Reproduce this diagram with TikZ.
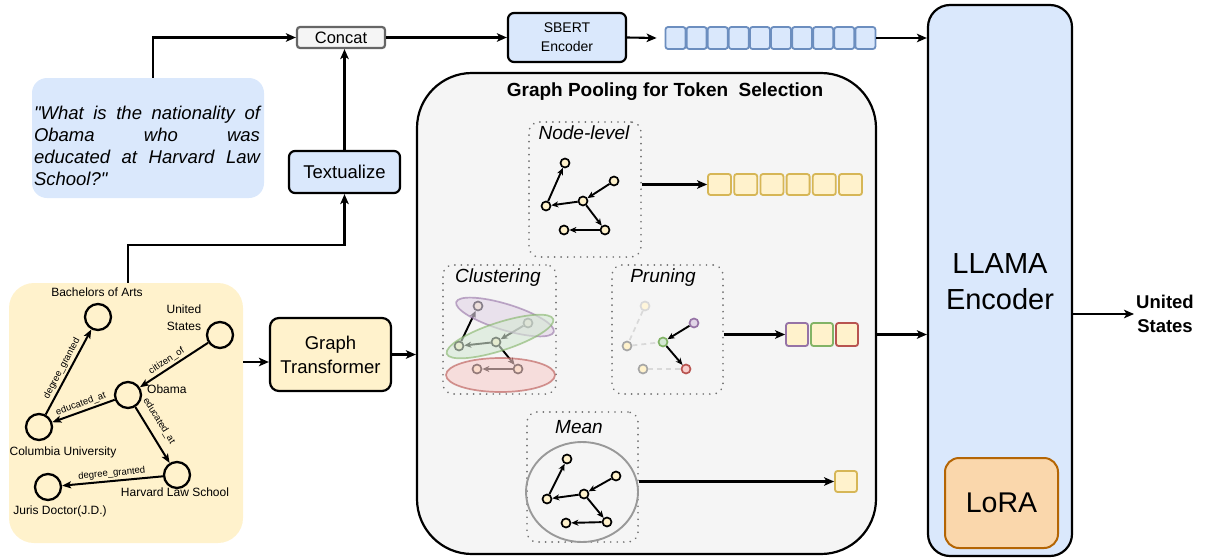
\documentclass[tikz,border=0pt]{standalone}
\usepackage{fontspec}
\setmainfont{Liberation Sans}
\usetikzlibrary{arrows.meta,shapes.geometric,calc}
\definecolor{qblue}{HTML}{DAE8FC}
\definecolor{bborder}{HTML}{6C8EBF}
\definecolor{ylw}{HTML}{FFF2CC}
\definecolor{ylwB}{HTML}{D6B656}
\definecolor{kgfill}{HTML}{FFF2CC}
\definecolor{poolfill}{HTML}{F5F5F5}
\definecolor{concatB}{HTML}{666666}
\definecolor{purF}{HTML}{E1D5E7}
\definecolor{purB}{HTML}{9673A6}
\definecolor{grnF}{HTML}{D5E8D4}
\definecolor{grnB}{HTML}{82B366}
\definecolor{redF}{HTML}{F8CECC}
\definecolor{redB}{HTML}{B85450}
\definecolor{loraF}{HTML}{FAD7AC}
\definecolor{loraB}{HTML}{B46504}
\definecolor{dotgray}{HTML}{707070}
\newcommand\myfs[2]{\fontsize{#1}{#2}\selectfont}
\tikzset{
  box/.style={draw=black, line width=2.2pt, rounded corners=6pt, align=center, inner sep=0pt},
  arr/.style={-{Stealth[length=10pt,width=8.5pt,inset=2.5pt]}, line width=2.1pt},
  sarr/.style={-{Stealth[length=7pt,width=6pt,inset=2pt]}, line width=1.9pt},
  kgarr/.style={-{Stealth[length=9pt,width=7pt,inset=2pt]}, line width=2pt},
  gn/.style={circle, draw=black, line width=1.7pt, fill=ylw, minimum size=9pt, inner sep=0pt},
  kgn/.style={circle, draw=black, line width=2.3pt, minimum size=26pt, inner sep=0pt},
  tok/.style={rectangle, rounded corners=2.5pt, line width=1.8pt, minimum width=20pt, minimum height=21pt, inner sep=0pt},
  dotbox/.style={draw=dotgray, line width=1.9pt, dash pattern=on 0.01pt off 6.5pt, line cap=round, rounded corners=10pt, inner sep=0pt},
  kglab/.style={font=\myfs{12}{16}, inner sep=1pt, align=center},
  elab/.style={font=\myfs{9.5}{11}, sloped, above, inner sep=2pt},
  clus/.style={ellipse, inner sep=0pt, line width=1.7pt, opacity=0.6},
}
\begin{document}
\begin{tikzpicture}[x=1pt,y=-1pt]
\useasboundingbox (0,0) rectangle (1206,557);

% ---------- top row ----------
\node[box, draw=concatB, fill=poolfill, minimum width=88pt, minimum height=21pt, rounded corners=3pt, font=\myfs{16.5}{18}] (concat) at (341,37.5) {Concat};
\node[fill=qblue, rounded corners=15pt, minimum width=232pt, minimum height=120pt, inner sep=0pt] (q) at (148,138) {};
\node[text width=226pt, align=justify, inner sep=0pt, font=\myfs{18.5}{22}\itshape] (qt) at (147,146) {\textquotedbl What is the nationality of\linebreak Obama who was\linebreak educated at Harvard Law\linebreak School?\textquotedbl};
\node[box, fill=qblue, minimum width=111pt, minimum height=42pt, font=\myfs{18.5}{20}] (tex) at (344.5,172) {Textualize};
\node[box, fill=qblue, minimum width=118pt, minimum height=49pt, font=\myfs{14}{19}] (sbert) at (567,37.5) {SBERT\\Encoder};
\foreach \i in {0,...,9} {
  \node[tok, fill=qblue, draw=bborder, minimum height=22pt] (b\i) at ({675.5+21.1*\i},38) {};
}

% ---------- KG ----------
\node[fill=kgfill, rounded corners=25pt, minimum width=234pt, minimum height=260pt, inner sep=0pt] (kg) at (126,413) {};
\node[kgn] (kb) at (98,317) {};
\node[kgn] (ku) at (220,335) {};
\node[kgn] (ko) at (128,395) {};
\node[kgn] (kc) at (39,427) {};
\node[kgn] (kh) at (177,475) {};
\node[kgn] (kj) at (48,487) {};
\node[kglab] (lb) at (97,292) {Bachelors of Arts};
\node[kglab, font=\myfs{12}{17}] (lu) at (184,317.5) {United\\States};
\node[kglab, anchor=west] (lo) at (146,389) {Obama};
\node[kglab] (lc) at (63,452) {Columbia University};
\node[kglab] (lh) at (175,492) {Harvard Law School};
\node[kglab] (lj) at (60,511) {Juris Doctor(J.D.)};
\draw[kgarr] (kc) -- node[elab, pos=0.5] {degree\_granted} (kb);
\draw[kgarr] (ku) -- node[elab, pos=0.55] {citizen\_of} (ko);
\draw[kgarr] (ko) -- node[elab, pos=0.5] {educated\_at} (kc);
\draw[kgarr] (ko) -- (kh);
\node[font=\myfs{9.5}{11}, inner sep=1pt, rotate=-58.5] (le4) at (159,421) {educated\_at};
\draw[kgarr] (kh) -- node[elab, pos=0.5] {degree\_granted} (kj);

\node[box, fill=ylw, minimum width=121pt, minimum height=73pt, rounded corners=9pt, font=\myfs{18.5}{24}] (gt) at (330.5,354.5) {Graph\\Transformer};

% ---------- pooling box ----------
\node[draw=black, line width=2.2pt, fill=poolfill, rounded corners=55pt, minimum width=459pt, minimum height=481pt, inner sep=0pt] (pool) at (646.5,313.5) {};
\node[font=\myfs{19}{22}\bfseries, inner sep=0pt] (title) at (665,92) {Graph Pooling for Token\ \ Selection};

% Node-level
\node[dotbox, minimum width=112pt, minimum height=135pt] (nl) at (585,189.5) {};
\node[font=\myfs{19}{22}\itshape, inner sep=0pt] (nlt) at (584,133) {Node-level};
\node[gn] (n1) at (565,163) {};
\node[gn] (n2) at (614,181) {};
\node[gn] (n3) at (583,201) {};
\node[gn] (n4) at (546,206) {};
\node[gn] (n5) at (605,230) {};
\node[gn] (n6) at (564,230) {};
\draw[sarr] (n4) -- (n1);
\draw[sarr] (n2) -- (n3);
\draw[sarr] (n3) -- (n4);
\draw[sarr] (n3) -- (n5);
\draw[sarr] (n5) -- (n6);
\foreach \i in {0,...,5} {
  \node[tok, fill=ylw, draw=ylwB, minimum width=23pt] (y\i) at ({719.5+26.2*\i},184.5) {};
}

% Clustering
\node[dotbox, minimum width=113pt, minimum height=129pt] (cl) at (499.5,329.5) {};
\node[font=\myfs{19}{22}\itshape, inner sep=0pt] (clt) at (498,278) {Clustering};
\node[gn] (c1) at (478,306) {};
\node[gn] (c2) at (528,323) {};
\node[gn] (c3) at (496,342) {};
\node[gn] (c4) at (459,346) {};
\node[gn] (c5) at (518,369) {};
\node[gn] (c6) at (477,369) {};
\draw[sarr] (c4) -- (c1);
\draw[sarr] (c2) -- (c3);
\draw[sarr] (c3) -- (c4);
\draw[sarr] (c3) -- (c5);
\draw[sarr] (c5) -- (c6);
\node[clus, draw=purB, fill=purF, minimum width=102pt, minimum height=26pt, rotate=-17] (ep) at (505,317) {};
\node[clus, draw=grnB, fill=grnF, minimum width=112pt, minimum height=28pt, rotate=18] (eg) at (500,336.5) {};
\node[clus, draw=redB, fill=redF, minimum width=109pt, minimum height=34pt] (er) at (500.5,375) {};

% Pruning
\node[dotbox, minimum width=111pt, minimum height=129pt] (pr) at (667.5,329.5) {};
\node[font=\myfs{19}{22}\itshape, inner sep=0pt] (prt) at (663,278) {Pruning};
\node[gn, draw=black!15, fill=ylw!70] (p1) at (645,306) {};
\node[gn, draw=purB, fill=purF] (p2) at (694,323) {};
\node[gn, draw=grnB, fill=grnF] (p3) at (663,342) {};
\node[gn, draw=black!35, fill=ylw] (p4) at (627,346) {};
\node[gn, draw=redB, fill=redF] (p5) at (686,369) {};
\node[gn, draw=black!35, fill=ylw] (p6) at (643,369) {};
\draw[black!15, line width=1.7pt, dash pattern=on 5pt off 4pt] (p1) -- (p4);
\draw[black!15, line width=1.7pt, dash pattern=on 5pt off 4pt] (p4) -- (p3);
\draw[black!15, line width=1.7pt, dash pattern=on 5pt off 4pt] (p6) -- (p5);
\draw[sarr] (p2) -- (p3);
\draw[sarr] (p3) -- (p5);
\node[tok, fill=ylw, draw=purB, minimum width=22pt, minimum height=23pt] (t1) at (797,334.5) {};
\node[tok, fill=ylw, draw=grnB, minimum width=22pt, minimum height=23pt] (t2) at (822,334.5) {};
\node[tok, fill=ylw, draw=redB, minimum width=22pt, minimum height=23pt] (t3) at (847,334.5) {};

% Mean
\node[dotbox, minimum width=111pt, minimum height=130pt] (mn) at (582.5,477) {};
\node[font=\myfs{19}{22}\itshape, inner sep=0pt] (mnt) at (579,427) {Mean};
\node[ellipse, draw=black!40, line width=1.9pt, minimum width=112pt, minimum height=100pt, inner sep=0pt] (mc) at (582,492) {};
\node[gn] (m1) at (567,459) {};
\node[gn] (m2) at (616,476) {};
\node[gn] (m3) at (584,494) {};
\node[gn] (m4) at (547,499) {};
\node[gn] (m5) at (607,522) {};
\node[gn] (m6) at (566,523) {};
\draw[sarr] (m4) -- (m1);
\draw[sarr] (m2) -- (m3);
\draw[sarr] (m3) -- (m4);
\draw[sarr] (m3) -- (m5);
\draw[sarr] (m5) -- (m6);
\node[tok, fill=ylw, draw=ylwB, minimum width=22pt] (mt) at (846,481.5) {};

% ---------- LLAMA ----------
\node[draw=black, line width=2.2pt, fill=qblue, rounded corners=22pt, minimum width=144pt, minimum height=551pt, inner sep=0pt] (llama) at (1000,280.5) {};
\node[font=\myfs{29}{36}, align=center, inner sep=0pt] (llt) at (1000,282) {LLAMA\\Encoder};
\node[draw=loraB, line width=2pt, fill=loraF, rounded corners=14pt, minimum width=113pt, minimum height=90pt, font=\myfs{28.5}{30}, inner sep=0pt] (lora) at (1001.5,503) {LoRA};
\node[font=\myfs{18.5}{24}\bfseries, align=center, inner sep=2pt] (us) at (1165,314) {United\\States};

% ---------- connectors ----------
\draw[arr] ([xshift=5pt]q.north) |- (concat.west);
\draw[arr] (tex.north) -- (tex.north |- concat.south);
\coordinate (kgturn) at (128,245);
\draw[arr] (kgturn |- kg.north) -- (kgturn) -| (tex.south);
\draw[arr] (concat.east) -- (sbert.west);
\draw[arr] (sbert.east) -- ([xshift=-8pt]b0.west);
\draw[arr] (b9.east) -- (b9.east -| llama.west);
\coordinate (gtin) at ([yshift=-7.5pt]gt.west);
\draw[arr] (gtin -| kg.east) -- (gtin);
\draw[arr] (gt.east) -- (gt.east -| pool.west);
\draw[arr] (y0.west -| nl.east) -- (y0.west);
\draw[arr] (t1.west -| pr.east) -- (t1.west);
\draw[arr] (t3.east -| pool.east) -- (t3.east -| llama.west);
\draw[arr] (mt.west -| mc.east) -- (mt.west);
\draw[arr] (us.west -| llama.east) -- (us.west);
\end{tikzpicture}
\end{document}
